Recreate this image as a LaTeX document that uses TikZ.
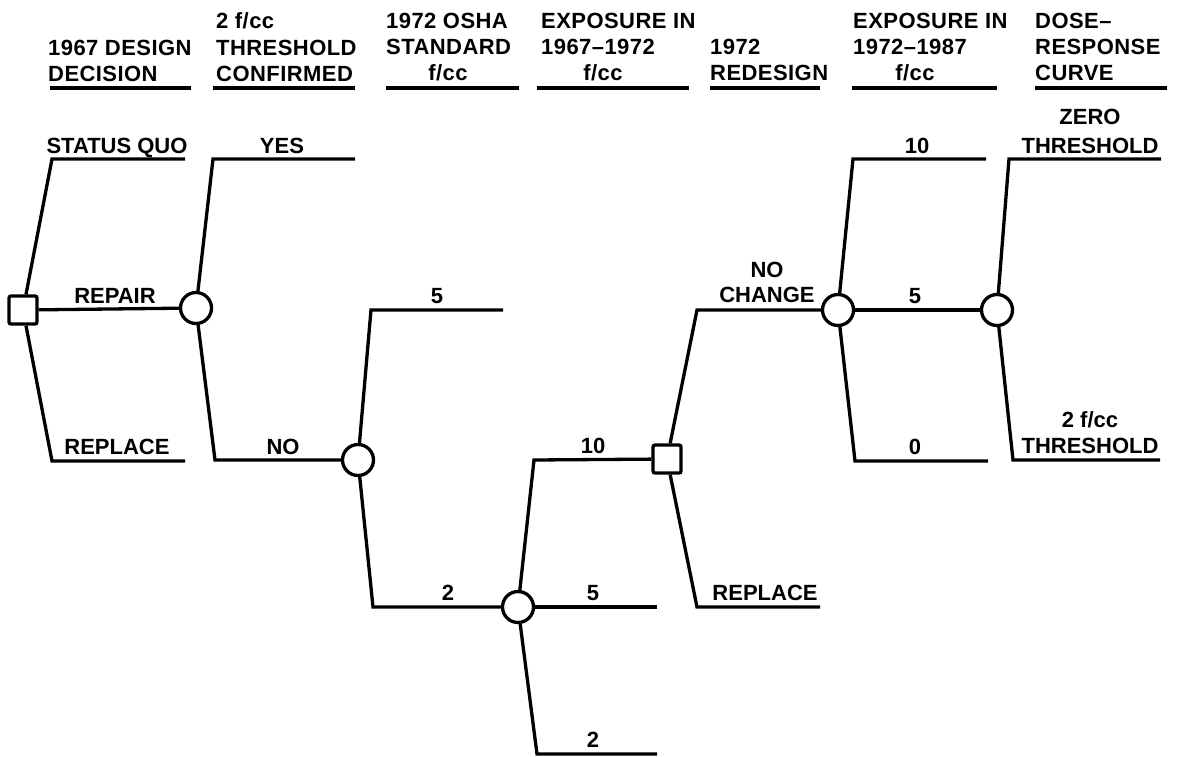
\documentclass[tikz,border=0pt]{standalone}
\usepackage{fontspec}
\setmainfont{Liberation Sans}
\newfontfamily\hdrfont[LetterSpace=2]{Liberation Sans}
\begin{document}
\begin{tikzpicture}[x=1pt,y=-1pt,
  every node/.style={font=\fontsize{22}{26}\selectfont\bfseries},
  txt/.style={anchor=base,inner sep=0pt},
  hdr/.style={anchor=base west,inner sep=0pt,font=\hdrfont\fontsize{22}{26}\selectfont\bfseries},
  hdrc/.style={anchor=base,inner sep=0pt,font=\hdrfont\fontsize{22}{26}\selectfont\bfseries},
  branch/.style={line width=3.3pt},
  uline/.style={line width=3.3pt},
  decision/.style={draw,line width=3.3pt,minimum size=28pt,inner sep=0pt,rounded corners=2pt,fill=white},
  chance/.style={draw,circle,line width=3.3pt,minimum size=31pt,inner sep=0pt,fill=white}]
\useasboundingbox (0,0) rectangle (1178,756);

% ---------- headers ----------
\node[hdr] (h1a) at (48,55) {1967 DESIGN};
\node[hdr] (h1b) at (48,81) {DECISION};
\draw[uline] (50,88) -- (191,88);

\node[hdr] (h2a) at (216,28) {2 f/cc};
\node[hdr] (h2b) at (216,55) {THRESHOLD};
\node[hdr] (h2c) at (216,81) {CONFIRMED};
\draw[uline] (213,88) -- (355,88);

\node[hdr] (h3a) at (386,28) {1972 OSHA};
\node[hdr] (h3b) at (386,54) {STANDARD};
\node[hdrc] (h3c) at (448,80) {f/cc};
\draw[uline] (386,88) -- (519,88);

\node[hdr] (h4a) at (541,28) {EXPOSURE IN};
\node[hdr] (h4b) at (541,54) {1967–1972};
\node[hdrc] (h4c) at (603,80) {f/cc};
\draw[uline] (537,88) -- (689,88);

\node[hdr] (h5a) at (710,54) {1972};
\node[hdr] (h5b) at (710,80) {REDESIGN};
\draw[uline] (710,88) -- (820,88);

\node[hdr] (h6a) at (853,28) {EXPOSURE IN};
\node[hdr] (h6b) at (853,54) {1972–1987};
\node[hdrc] (h6c) at (915,80) {f/cc};
\draw[uline] (852,88) -- (997,88);

\node[hdr] (h7a) at (1035,28) {DOSE–};
\node[hdr] (h7b) at (1035,54) {RESPONSE};
\node[hdr] (h7c) at (1035,80) {CURVE};
\draw[uline] (1035,88) -- (1167,88);

% ---------- decision / chance nodes ----------
\node[decision] (sq1) at (23,310) {};
\node[chance] (c1) at (196,308) {};
\node[chance] (c2) at (358,460) {};
\node[chance] (c3) at (518,607) {};
\node[decision] (sq2) at (667,459) {};
\node[chance] (c4) at (838,310) {};
\node[chance] (c5) at (997,310) {};

% ---------- corner and end coordinates ----------
\coordinate (k1) at (52,159);  \coordinate (e1) at (185,159);
\coordinate (k2) at (52,461);  \coordinate (e2) at (185,461);
\coordinate (k3) at (213,159); \coordinate (e3) at (355,159);
\coordinate (k4) at (215,460);
\coordinate (k5) at (371,310); \coordinate (e5) at (503,310);
\coordinate (k6) at (373,607);
\coordinate (k7) at (534,460);
\coordinate (e8) at (657,607);
\coordinate (k9) at (537,754); \coordinate (e9) at (657,754);
\coordinate (k10) at (697,310);
\coordinate (k11) at (697,607); \coordinate (e11) at (820,607);
\coordinate (k12) at (853,159); \coordinate (e12) at (986,159);
\coordinate (k13) at (855,461); \coordinate (e13) at (988,461);
\coordinate (k14) at (1009,159); \coordinate (e14) at (1161,159);
\coordinate (k15) at (1013,460); \coordinate (e15) at (1160,460);

% ---------- branches ----------
\draw[branch] (sq1) -- (k1) -- (e1);
\draw[branch] (sq1) -- (c1);
\draw[branch] (sq1) -- (k2) -- (e2);

\draw[branch] (c1) -- (k3) -- (e3);
\draw[branch] (c1) -- (k4) -- (c2);

\draw[branch] (c2) -- (k5) -- (e5);
\draw[branch] (c2) -- (k6) -- (c3);

\draw[branch] (c3) -- (k7) -- (sq2);
\draw[branch] (c3) -- (e8);
\draw[branch] (c3) -- (k9) -- (e9);

\draw[branch] (sq2) -- (k10) -- (c4);
\draw[branch] (sq2) -- (k11) -- (e11);

\draw[branch] (c4) -- (k12) -- (e12);
\draw[branch] (c4) -- (c5);
\draw[branch] (c4) -- (k13) -- (e13);

\draw[branch] (c5) -- (k14) -- (e14);
\draw[branch] (c5) -- (k15) -- (e15);

% ---------- branch labels ----------
\node[txt] (lsq) at (117,153) {STATUS QUO};
\node[txt] (lrp) at (115,303) {REPAIR};
\node[txt] (lrl) at (117,454) {REPLACE};
\node[txt] (lyes) at (282,153) {YES};
\node[txt] (lno) at (283,454) {NO};
\node[txt] (l5a) at (437,303) {5};
\node[txt] (l2a) at (448,600) {2};
\node[txt] (l10b) at (593,453) {10};
\node[txt] (l5b) at (593,600) {5};
\node[txt] (l2b) at (593,747) {2};
\node[txt] (lnoc1) at (767,277) {NO};
\node[txt] (lnoc2) at (767,302) {CHANGE};
\node[txt] (lrep2) at (765,600) {REPLACE};
\node[txt] (l10c) at (917,153) {10};
\node[txt] (l5c) at (915,303) {5};
\node[txt] (l0c) at (915,454) {0};
\node[txt] (lz1) at (1090,124) {ZERO};
\node[txt] (lz2) at (1090,153) {THRESHOLD};
\node[txt] (lt1) at (1090,427) {2 f/cc};
\node[txt] (lt2) at (1090,453) {THRESHOLD};
\end{tikzpicture}
\end{document}
